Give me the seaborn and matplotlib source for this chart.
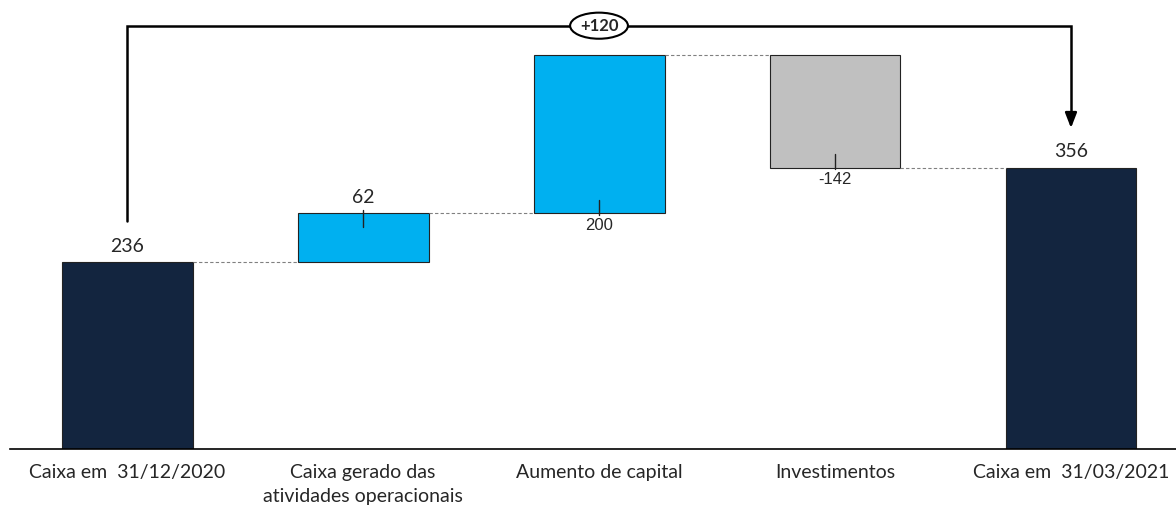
import numpy as np
import seaborn as sns
import matplotlib.pyplot as plt
from matplotlib.patches import Ellipse

categorias = ["Caixa em  31/12/2020", "Caixa gerado das\natividades operacionais",
              "Aumento de capital", "Investimentos", "Caixa em  31/03/2021"]
valores = [236, 62, 200, -142, 356]
tipo = ["total", "delta", "delta", "delta", "total"]
variacao = "+120"

cores = {"total": "#13253F", "pos": "#00B0F0", "neg": "#C0C0C0"}

# bases da cascata
bases = []
acum = 0
for v, t in zip(valores, tipo):
    if t == "total":
        bases.append(0)
        acum = v
    else:
        bases.append(acum)
        acum += v
topos = [b + v for b, v in zip(bases, valores)]

sns.set_style("white")
plt.rcParams["font.family"] = ["Lato", "DejaVu Sans"]

fig = plt.figure(figsize=(11.76, 5.12), dpi=100)
ax = fig.add_axes([10 / 1176, 63 / 512, 1 - 10 / 1176, 449 / 512])

ax = sns.barplot(x=list(range(len(valores))), y=valores, bottom=bases,
                 width=0.555, ax=ax, color=cores["total"],
                 edgecolor="#222222", linewidth=0.8, native_scale=True)
for p, v, t in zip(ax.patches, valores, tipo):
    if t == "total":
        p.set_facecolor(cores["total"])
    elif v >= 0:
        p.set_facecolor(cores["pos"])
    else:
        p.set_facecolor(cores["neg"])

ax.set_xlim(-0.496, 4.445)
ax.set_ylim(0, 568)
ax.set_yticks([])
ax.set_xticks(range(len(categorias)))
ax.set_xticklabels(categorias, fontsize=14, linespacing=1.45)
ax.tick_params(axis="x", length=0, pad=11)
for s in ["top", "left", "right"]:
    ax.spines[s].set_visible(False)
ax.spines["bottom"].set_color("black")
ax.spines["bottom"].set_linewidth(1.2)

w = 0.555
# conectores tracejados
for i in range(len(valores) - 1):
    y = topos[i]
    ax.plot([i + w / 2, i + 1 - w / 2], [y, y], color="#808080",
            linestyle=(0, (3, 2)), linewidth=0.8, zorder=1)

# rótulos de valor
for i, (v, t) in enumerate(zip(valores, tipo)):
    if t == "total":
        ax.text(i, topos[i] + 10, str(v), ha="center", va="bottom", fontsize=14)
    elif i == 1:
        ax.plot([i, i], [topos[i] - 17, topos[i] + 4], color="#222222", lw=1)
        ax.text(i, topos[i] + 10, str(v), ha="center", va="bottom", fontsize=14)
    else:
        lo = min(bases[i], topos[i])
        ax.plot([i, i], [lo - 2, lo + 17], color="#222222", lw=1)
        ax.text(i, lo - 6, str(v), ha="center", va="top", fontsize=12,
                family=["Liberation Sans", "DejaVu Sans"])

# colchete da variação total
y_top = 535.5
ax.plot([0, 0, 4, 4], [288, y_top, y_top, 420], color="black", lw=1.8,
        solid_joinstyle="miter")
ax.annotate("", xy=(4, 406), xytext=(4, 425),
            arrowprops=dict(arrowstyle="-|>,head_width=0.35,head_length=0.9",
                            color="black", lw=1.8, shrinkA=0, shrinkB=0))
ax.add_patch(Ellipse((2, y_top), 0.245, 33, facecolor="white",
                     edgecolor="black", lw=1.5, zorder=5))
ax.text(2, y_top, variacao, ha="center", va="center", fontsize=12,
        fontweight="bold", zorder=6)

plt.savefig("out.png", dpi=100)
